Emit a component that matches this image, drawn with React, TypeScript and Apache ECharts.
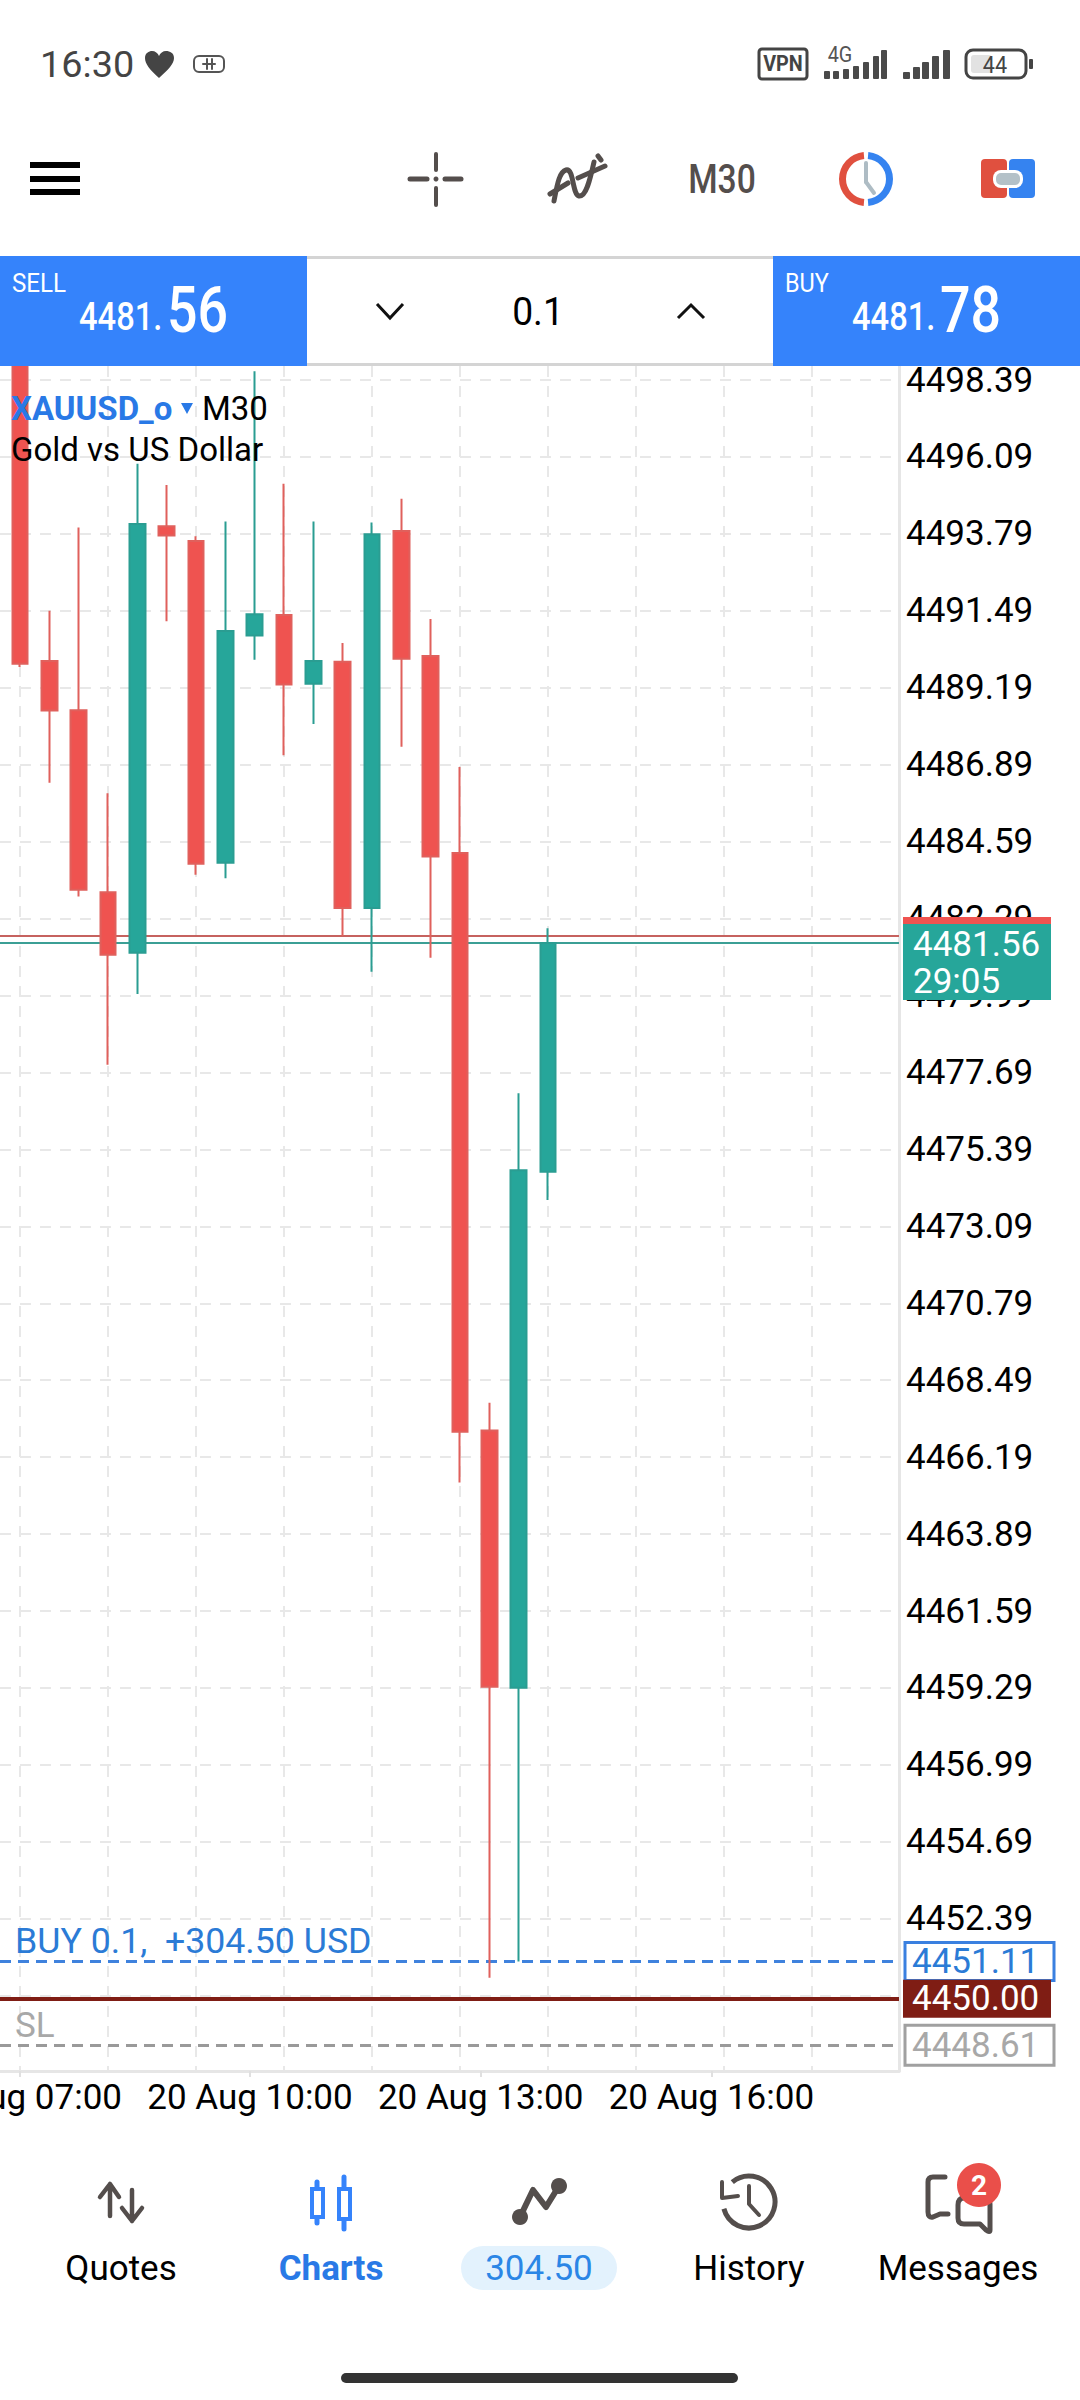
import React, { useEffect, useRef } from "react";
import * as echarts from "echarts";

// ---- data ----
const candleIndex = [0, 1, 2, 3, 4, 5, 6, 7, 8, 9, 10, 11, 12, 13, 14, 15, 16, 17, 18];
const opens = [4499.6, 4489.99, 4488.52, 4483.08, 4481.27, 4494.02, 4493.58, 4483.96, 4490.75, 4491.37, 4489.31, 4489.97, 4482.61, 4493.88, 4490.14, 4484.25, 4466.99, 4459.3, 4474.72];
const closes = [4489.91, 4488.51, 4483.15, 4481.21, 4494.09, 4493.74, 4483.93, 4490.89, 4491.39, 4489.29, 4489.99, 4482.61, 4493.78, 4490.06, 4484.15, 4466.95, 4459.33, 4474.77, 4481.56];
const lows = [4489.81, 4486.35, 4482.95, 4477.92, 4480.04, 4491.18, 4483.6, 4483.5, 4490.03, 4487.17, 4488.11, 4481.77, 4480.7, 4487.43, 4481.12, 4465.43, 4450.63, 4451.11, 4473.88];
const highs = [4500.2, 4491.49, 4493.98, 4486.04, 4495.89, 4495.25, 4493.72, 4494.16, 4498.65, 4495.29, 4494.16, 4490.53, 4494.13, 4494.84, 4491.25, 4486.82, 4467.82, 4477.07, 4482.0];
const priceTicks = [4498.39, 4496.09, 4493.79, 4491.49, 4489.19, 4486.89, 4484.59, 4482.29, 4479.99, 4477.69, 4475.39, 4473.09, 4470.79, 4468.49, 4466.19, 4463.89, 4461.59, 4459.29, 4456.99, 4454.69, 4452.39, 4450.09];
const gridCandles = [0, 3, 6, 9, 12, 15, 18, 21, 24, 27];
const hourTicks = [7, 10, 13, 16];
const timeLabels = ["20 Aug 07:00", "20 Aug 10:00", "20 Aug 13:00", "20 Aug 16:00"];
const askPrice = 4481.78;
const bidPrice = 4481.56;
const buyPrice = 4451.11;
const alertPrice = 4450.0;
const slPrice = 4448.61;
const countdown = "29:05";
const profit = "304.50";
const navLabels = ["Quotes", "Charts", profit, "History", "Messages"];

// ---- colours ----
const RED = "#ef5350";
const TEAL = "#26a69a";
const BLUE = "#3583fb";
const ICON = "#544e4c";
const GRID = "#e8e8e8";
const FONT = "Roboto";

const shapes: Record<string, string> = {
  heartIcon: "M159 78 C150 70 145 64 145 58 C145 53 149 51 152 51 C155 51 158 53 159 56 C160 53 163 51 166 51 C170 51 174 53 174 58 C174 64 168 70 159 78Z",
  waveIcon: "M554 201 C557 186 559 172 566 170 C574 168 572 194 579 196 C586 197 590 180 594 162",
  diagIcon: "M550 194 L568 183 M578 178 L605 166 M598 156 L601 160",
  upArrow: "M110 2216 L110 2184 M100 2197 L110 2184 L119 2197",
  downArrow: "M132 2190 L132 2221 M122 2208 L132 2221 L142 2208",
  tradeIcon: "M520 2217 L533 2190 L546 2207 L559 2186",
  histHands: "M749 2186 L749 2204 L759 2215",
  histArrow: "M722 2182 L722 2198 L738 2196",
  msgBack: "M945 2177 L933 2177 Q928 2177 928 2182 L928 2212 Q928 2218 933 2217 L940 2214 L948 2214",
  msgFront: "M958 2205 Q958 2198 964 2198 L985 2198 Q990 2198 990 2204 L990 2230 Q990 2233 986 2230 L980 2224 L964 2224 Q958 2224 958 2218 Z",
};
Object.keys(shapes).forEach((k) => echarts.graphic.registerShape(k, echarts.graphic.extendPath(shapes[k], {})));

const txt = (text: string, x: number, y: number, size: number, fill: string, o: any = {}) => ({
  type: "text",
  x,
  y,
  scaleX: o.sx ?? 1,
  z: 50,
  style: {
    text,
    fill,
    fontSize: size,
    fontFamily: o.family ?? FONT,
    fontWeight: o.weight ?? 400,
    textAlign: o.align ?? "left",
    textVerticalAlign: "middle",
    align: o.align ?? "left",
    verticalAlign: "middle",
  },
});
const rect = (x: number, y: number, width: number, height: number, fill: string, r = 0, extra: any = {}) => ({
  type: "rect",
  z: 40,
  shape: { x, y, width, height, r },
  style: { fill, ...extra },
});
const stroked = (type: string, color: string, lw: number, fill = "none") => ({
  type,
  z: 45,
  style: { stroke: color, lineWidth: lw, fill, lineCap: "round", lineJoin: "round" },
});
const circle = (cx: number, cy: number, r: number, fill: string) => ({ type: "circle", z: 46, shape: { cx, cy, r }, style: { fill } });
const sector = (cx: number, cy: number, r: number, r0: number, a0: number, a1: number, fill: string) => ({
  type: "sector",
  z: 45,
  shape: { cx, cy, r, r0, startAngle: (a0 * Math.PI) / 180, endAngle: (a1 * Math.PI) / 180, clockwise: true },
  style: { fill },
});
const line = (x1: number, y1: number, x2: number, y2: number, color: string, lw: number) => ({
  type: "line",
  z: 45,
  shape: { x1, y1, x2, y2 },
  style: { stroke: color, lineWidth: lw, lineCap: "round" },
});

function signalBars(xs: number[], tops: number[], bottom: number, w: number) {
  return xs.map((x, i) => rect(x, tops[i], w, bottom - tops[i], "#4a4a4a", 1));
}

function chrome(yOf: (v: number) => number) {
  const bidY = yOf(bidPrice);
  const buyY = yOf(buyPrice);
  const alertY = yOf(alertPrice);
  const slY = yOf(slPrice);
  const bidInt = String(Math.floor(bidPrice)) + ".";
  const bidDec = bidPrice.toFixed(2).split(".")[1];
  const askInt = String(Math.floor(askPrice)) + ".";
  const askDec = askPrice.toFixed(2).split(".")[1];
  return [
    // status bar
    txt("16:30", 40, 65, 36, "#444444", { sx: 1.05 }),
    { ...stroked("heartIcon", "#444444", 0, "#444444") },
    { type: "rect", z: 45, shape: { x: 194, y: 56, width: 30, height: 16, r: 5 }, style: { fill: "none", stroke: "#555", lineWidth: 2 } },
    line(203, 64, 215, 64, "#555", 2),
    line(207, 59, 207, 69, "#555", 2),
    line(212, 59, 212, 69, "#555", 2),
    { type: "rect", z: 45, shape: { x: 759, y: 49, width: 48, height: 30, r: 3 }, style: { fill: "none", stroke: "#444", lineWidth: 3 } },
    txt("VPN", 783, 64, 22, "#444", { align: "center", weight: 700, sx: 0.9 }),
    txt("4G", 840, 55, 22, "#555", { align: "center", sx: 0.9 }),
    ...signalBars([824, 833, 843, 853, 863, 873, 881], [71, 71, 69, 66, 62, 56, 50], 79, 6),
    ...signalBars([903, 913, 922, 932, 943], [72, 67, 62, 56, 50], 79, 7),
    { type: "rect", z: 45, shape: { x: 966, y: 50, width: 60, height: 28, r: 7 }, style: { fill: "none", stroke: "#444", lineWidth: 3 } },
    rect(971, 55, 21, 18, "#e2e2e2", 3),
    txt("44", 995, 65, 24, "#444", { align: "center", sx: 0.9 }),
    rect(1029, 59, 4, 10, "#444", 1),
    // toolbar
    rect(30, 162, 50, 6, "#000"),
    rect(30, 176, 50, 6, "#000"),
    rect(30, 189, 50, 6, "#000"),
    line(436, 154, 436, 170, ICON, 4),
    line(436, 188, 436, 205, ICON, 4),
    line(410, 179, 427, 179, ICON, 5),
    line(445, 179, 461, 179, ICON, 5),
    circle(436, 179, 2.5, ICON),
    { ...stroked("waveIcon", ICON, 5) },
    { ...stroked("diagIcon", ICON, 5) },
    txt("M30", 722, 179, 41, ICON, { align: "center", weight: 500, sx: 0.82 }),
    sector(866, 179, 27, 20, 95, 265, "#e0503f"),
    sector(866, 179, 27, 20, -85, 85, "#3583f0"),
    line(866, 163, 866, 182, "#aebcc4", 4),
    line(866, 182, 874, 193, "#aebcc4", 4),
    rect(981, 159, 26, 39, "#e0503f", 4),
    rect(1009, 159, 26, 39, "#3583f0", 4),
    rect(993, 170, 30, 18, "#ffffff", 8),
    rect(996, 173, 24, 12, "#b4c1c8", 5),
    // sell / buy strip
    rect(307, 256, 466, 110, "#ffffff"),
    rect(307, 256, 466, 3, "#d4d4d4"),
    rect(307, 363, 466, 3, "#d4d4d4"),
    rect(0, 256, 307, 110, BLUE),
    rect(773, 256, 307, 110, BLUE),
    txt("SELL", 12, 283, 26, "#fff", { sx: 0.93 }),
    txt("BUY", 785, 283, 26, "#fff", { sx: 0.9 }),
    txt(bidInt, 79, 317, 38, "#fff", { sx: 0.86, weight: 500 }),
    txt(bidDec, 167, 310, 64, "#fff", { sx: 0.84, weight: 500 }),
    txt(askInt, 852, 317, 38, "#fff", { sx: 0.86, weight: 500 }),
    txt(askDec, 940, 310, 64, "#fff", { sx: 0.84, weight: 500 }),
    txt("0.1", 538, 312, 38, "#000", { align: "center", sx: 0.98 }),
    { type: "polyline", z: 45, shape: { points: [[377, 304], [390, 318], [403, 304]] }, style: { fill: "none", stroke: "#111", lineWidth: 3 } },
    { type: "polyline", z: 45, shape: { points: [[678, 318], [691, 305], [704, 318]] }, style: { fill: "none", stroke: "#111", lineWidth: 3 } },
    // symbol caption
    txt("XAUUSD_o", 11, 408, 33, "#2979e6", { weight: 700 }),
    { type: "polygon", z: 45, shape: { points: [[181, 403], [193, 403], [187, 414]] }, style: { fill: "#2979e6" } },
    txt("M30", 202, 408, 33, "#000"),
    txt("Gold vs US Dollar", 11, 449, 33, "#000"),
    // trade captions
    txt("BUY 0.1,  +304.50 USD", 15, buyY - 20, 35, "#2b7bd6", { sx: 1.02 }),
    txt("SL", 15, slY - 20, 35, "#a8a8a8"),
    // price tags
    rect(903, bidY - 26, 148, 83, TEAL),
    rect(903, bidY - 26, 148, 7, RED),
    txt(bidPrice.toFixed(2), 913, bidY + 1, 35, "#fff"),
    txt(countdown, 913, bidY + 38, 35, "#fff"),
    rect(905, buyY - 19, 149, 38, "#fff", 0, { stroke: "#3a80e0", lineWidth: 3 }),
    txt(buyPrice.toFixed(2), 912, buyY, 35, "#2b7bd6"),
    rect(903, alertY - 19, 148, 38, "#7f1d14"),
    txt(alertPrice.toFixed(2), 912, alertY, 35, "#fff"),
    rect(905, slY - 20, 149, 40, "#fff", 0, { stroke: "#a0a0a0", lineWidth: 3 }),
    txt(slPrice.toFixed(2), 912, slY, 35, "#a8a8a8"),
    // bottom navigation
    { ...stroked("upArrow", ICON, 4.5) },
    { ...stroked("downArrow", ICON, 4.5) },
    line(317, 2182, 317, 2223, BLUE, 5),
    line(344, 2177, 344, 2229, BLUE, 5),
    { type: "rect", z: 45, shape: { x: 312, y: 2189, width: 11, height: 28 }, style: { fill: "#fff", stroke: BLUE, lineWidth: 4 } },
    { type: "rect", z: 45, shape: { x: 339, y: 2189, width: 11, height: 30 }, style: { fill: "#fff", stroke: BLUE, lineWidth: 4 } },
    { ...stroked("tradeIcon", ICON, 6) },
    circle(520, 2217, 8, ICON),
    circle(559, 2186, 8, ICON),
    { type: "arc", z: 45, shape: { cx: 749, cy: 2202, r: 26, startAngle: (-130 * Math.PI) / 180, endAngle: (165 * Math.PI) / 180, clockwise: true }, style: { stroke: ICON, lineWidth: 5, fill: "none" } },
    { ...stroked("histHands", ICON, 4) },
    { ...stroked("histArrow", ICON, 4) },
    { ...stroked("msgBack", ICON, 5) },
    { ...stroked("msgFront", ICON, 5) },
    circle(979, 2185, 22, "#ea4f4a"),
    txt("2", 979, 2185, 28, "#fff", { align: "center", weight: 700 }),
    rect(461, 2246, 156, 44, "#e3f2fd", 22),
    txt(navLabels[0], 121, 2268, 35, "#000", { align: "center" }),
    txt(navLabels[1], 331, 2268, 35, "#2979e6", { align: "center", weight: 700 }),
    txt(navLabels[2], 539, 2268, 35, "#2b86e6", { align: "center" }),
    txt(navLabels[3], 749, 2268, 35, "#000", { align: "center" }),
    txt(navLabels[4], 958, 2268, 35, "#000", { align: "center" }),
    rect(341, 2373, 397, 10, "#333", 5),
  ];
}

export default function App() {
  const ref = useRef<HTMLDivElement>(null);
  useEffect(() => {
    const chart = echarts.init(ref.current!, undefined, { renderer: "svg" });
    const candles = candleIndex.map((x, i) => [x, opens[i], closes[i], lows[i], highs[i]]);
    const option: any = {
      animation: false,
      backgroundColor: "#ffffff",
      grid: { left: 0, top: 366, width: 899, height: 1705, containLabel: false, outerBoundsMode: "none" },
      xAxis: [
        {
          type: "value",
          min: -0.682,
          max: 29.97,
          axisLine: { show: true, onZero: false, lineStyle: { color: "#e6e6e6", width: 3 } },
          axisTick: { show: false, customValues: gridCandles },
          axisLabel: { show: false, customValues: gridCandles },
          splitLine: { show: true, lineStyle: { color: GRID, width: 2, type: [11, 9] } },
        },
        {
          type: "value",
          position: "bottom",
          min: 6.749,
          max: 18.44,
          axisLine: { show: false, onZero: false },
          axisTick: { show: true, length: 6, customValues: hourTicks, lineStyle: { color: "#e0e0e0", width: 2 } },
          axisLabel: {
            show: true,
            customValues: hourTicks,
            margin: 9,
            color: "#000",
            fontFamily: FONT,
            fontSize: 35,
            formatter: (v: number) => timeLabels[hourTicks.indexOf(v)],
          },
          splitLine: { show: false },
        },
      ],
      yAxis: {
        type: "value",
        position: "right",
        min: 4447.84,
        max: 4498.81,
        axisLine: { show: true, onZero: false, lineStyle: { color: "#e6e6e6", width: 3 } },
        axisTick: { show: false, customValues: priceTicks },
        axisLabel: {
          show: true,
          customValues: priceTicks,
          margin: 7,
          padding: [2, 0, 0, 0],
          color: "#000",
          fontFamily: FONT,
          fontSize: 35,
          formatter: (v: number) => v.toFixed(2),
        },
        splitLine: { show: true, lineStyle: { color: GRID, width: 2, type: [11, 9] } },
      },
      series: [
        {
          type: "candlestick",
          xAxisIndex: 0,
          yAxisIndex: 0,
          barWidth: 16,
          data: candles,
          encode: { x: 0, y: [1, 2, 3, 4] },
          itemStyle: { color: TEAL, color0: RED, borderColor: "#2a9d92", borderColor0: "#e0605c", borderWidth: 2 },
          markLine: {
            silent: true,
            symbol: "none",
            z: 1,
            label: { show: false },
            data: [
              { yAxis: askPrice, lineStyle: { color: "#c6625f", width: 2, type: "solid" } },
              { yAxis: bidPrice, lineStyle: { color: "#3b9f95", width: 2, type: "solid" } },
              { yAxis: buyPrice, lineStyle: { color: "#3f82dd", width: 3, type: [11, 7] } },
              { yAxis: alertPrice, lineStyle: { color: "#7f1d14", width: 4, type: "solid" } },
              { yAxis: slPrice, lineStyle: { color: "#9a9a9a", width: 3, type: [11, 7] } },
            ],
          },
        },
      ],
    };
    chart.setOption(option);
    const yOf = (v: number) => chart.convertToPixel({ yAxisIndex: 0 }, v) as number;
    chart.setOption({ graphic: { elements: chrome(yOf) } });
    return () => chart.dispose();
  }, []);
  return <div ref={ref} style={{ position: "absolute", left: 0, top: 0, width: 1080, height: 2400 }} />;
}
